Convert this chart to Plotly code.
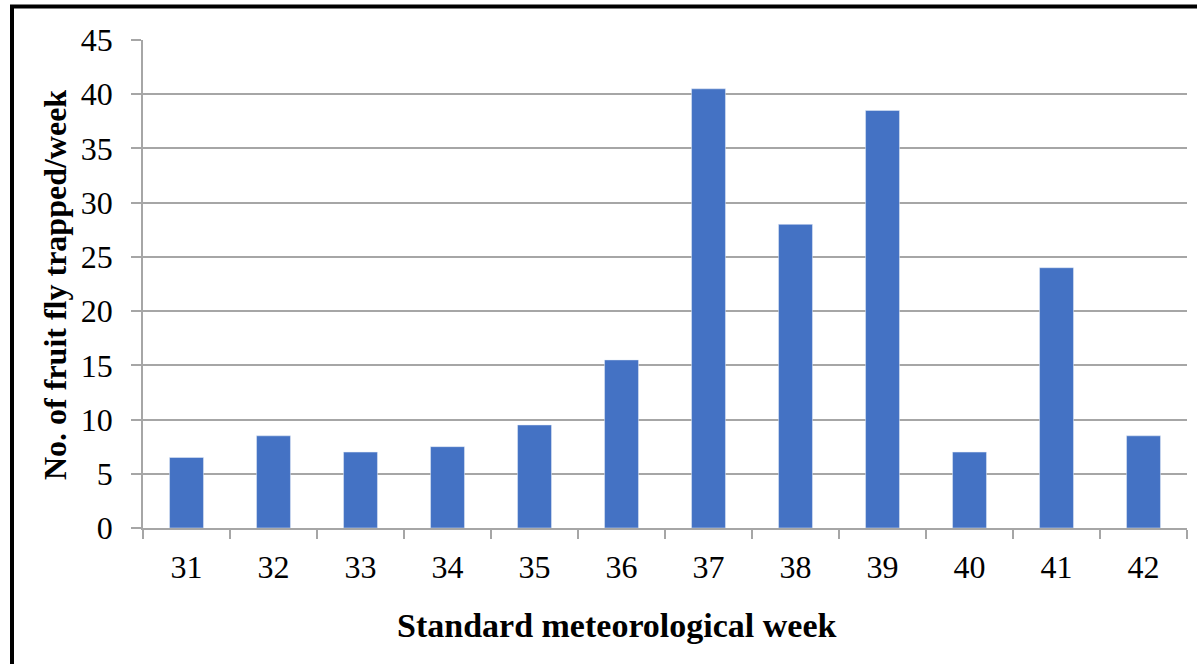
import plotly.graph_objects as go

weeks = ["31", "32", "33", "34", "35", "36", "37", "38", "39", "40", "41", "42"]
counts = [6.5, 8.5, 7, 7.5, 9.5, 15.5, 40.5, 28, 38.5, 7, 24, 8.5]
y_ticks = [0, 5, 10, 15, 20, 25, 30, 35, 40, 45]
x_title = "Standard meteorological week"
y_title = "No. of fruit fly trapped/week"

W, H = 1197, 664
L, R, T, B = 143, 10, 40, 136
pw = W - L - R
ph = H - T - B


def px_x(p):
    return (p - L) / pw


def px_y(p):
    return (H - B - p) / ph


fig = go.Figure(go.Bar(x=weeks, y=counts, marker_color="#4472C4", width=0.39))

fig.add_shape(type="line", xref="paper", yref="paper",
              x0=px_x(12), x1=px_x(12), y0=px_y(H + 10), y1=px_y(6.5),
              line=dict(color="black", width=4))
fig.add_shape(type="line", xref="paper", yref="paper",
              x0=px_x(10), x1=px_x(W + 10), y0=px_y(6.5), y1=px_y(6.5),
              line=dict(color="black", width=4))

fig.add_annotation(text="<b>" + x_title + "</b>", xref="paper", yref="paper",
                   x=px_x(616.5), y=px_y(625), xanchor="center", yanchor="middle",
                   showarrow=False, font=dict(size=34, family="Liberation Serif", color="black"))
fig.add_annotation(text="<b>" + y_title + "</b>", xref="paper", yref="paper",
                   x=px_x(55), y=px_y(285), xanchor="center", yanchor="middle",
                   textangle=-90, showarrow=False,
                   font=dict(size=32, family="Liberation Serif", color="black"))

fig.update_layout(
    width=W, height=H,
    margin=dict(l=L, r=R, t=T, b=B),
    plot_bgcolor="white", paper_bgcolor="white",
    font=dict(family="Liberation Serif", color="black"),
    showlegend=False,
    xaxis=dict(
        type="category", tickson="boundaries", ticks="outside", ticklen=9,
        tickcolor="#A6A6A6", tickwidth=1.5,
        showline=True, linecolor="#A6A6A6", linewidth=1.5,
        showgrid=False, tickfont=dict(size=32), ticklabelstandoff=10,
    ),
    yaxis=dict(
        range=[0, 45], tickvals=y_ticks, ticks="outside", ticklen=10,
        tickcolor="#A6A6A6", tickwidth=1.5,
        showline=True, linecolor="#A6A6A6", linewidth=1.5,
        showgrid=True, gridcolor="#A6A6A6", gridwidth=1.5,
        zeroline=False,
        tickfont=dict(size=32), ticklabelstandoff=12,
    ),
)

fig.write_html("out.html")
